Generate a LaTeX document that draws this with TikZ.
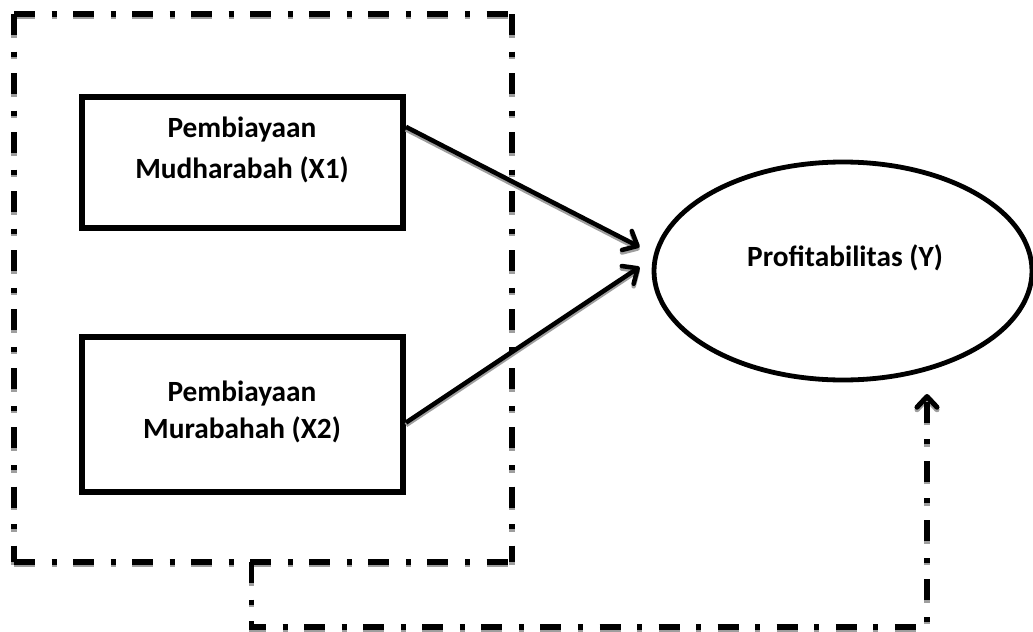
\documentclass[tikz,border=0pt]{standalone}
\usepackage{fontspec}
\setmainfont{Carlito}
\usetikzlibrary{arrows.meta,calc,shapes.geometric}
\begin{document}
\begin{tikzpicture}[x=0.75pt,y=-0.75pt,
  shadow/.style={draw=black!38,transform canvas={yshift=-1.9pt}},
  mainline/.style={draw=black},
  dashdot/.style={line width=3.8pt,dash pattern=on 15.75pt off 12.4pt on 3.75pt off 12.4pt},
  boxnode/.style={draw,line width=4.5pt,rectangle,minimum width=240.75pt,inner sep=0pt},
  lbl/.style={font=\bfseries\fontsize{22}{30}\selectfont,align=center,inner sep=0pt},
  link/.style={line width=3.4pt,-{Straight Barb[length=9pt,width=16pt,round]}},
  fbtip/.style={-{Straight Barb[length=8pt,width=15pt,round]}},
]
\useasboundingbox (0,0) rectangle (1033,632);
% frame
\coordinate (TL) at (14,14);
\coordinate (TR) at (512,14);
\coordinate (BR) at (512,562);
\coordinate (BL) at (14,562);
\foreach \s in {shadow,mainline}{
  \draw[dashdot,\s] (TL) -- (TR);
  \draw[dashdot,\s] (TL) -- (BL);
  \draw[dashdot,\s] (TR) -- (BR);
  \draw[dashdot,\s] (BL) -- (BR);
}
% boxes
\node[boxnode,minimum height=98.25pt] (x1) at (242.5,162.5) {};
\node[boxnode,minimum height=116.25pt] (x2) at (242.5,414.5) {};
\node[lbl,font=\bfseries\fontsize{22}{30.75}\selectfont] (t1) at (242,150) {Pembiayaan\\Mudharabah (X1)};
\node[lbl,font=\bfseries\fontsize{22}{27.75}\selectfont] (t2) at (242,412) {Pembiayaan\\Murabahah (X2)};
% ellipse
\node[draw,ellipse,line width=3.6pt,minimum width=283.5pt,minimum height=163.5pt,inner sep=0pt] (y) at (843,271) {};
\node[lbl,anchor=base] (ty) at (845,266) {Profitabilitas (Y)};
% arrows
\coordinate (a1) at ($(x1.north east)!0.24!(x1.south east)$);
\coordinate (a2) at ($(x2.north east)!0.55!(x2.south east)$);
\coordinate (e1) at ($(y.west)+(-12,-24)$);
\coordinate (e2) at ($(y.west)+(-12,-4)$);
% feedback connector
\coordinate (c0) at ($(BL)!0.476!(BR)$);
\coordinate (c2) at (927,627);
\coordinate (ytip) at (927,394);
\foreach \s in {shadow,mainline}{
  \draw[link,\s] (a1) -- (e1);
  \draw[link,\s] (a2) -- (e2);
  \draw[dashdot,fbtip,\s] (c0) -- (c0 |- c2) -- (c2) -- (ytip);
}
\end{tikzpicture}
\end{document}
